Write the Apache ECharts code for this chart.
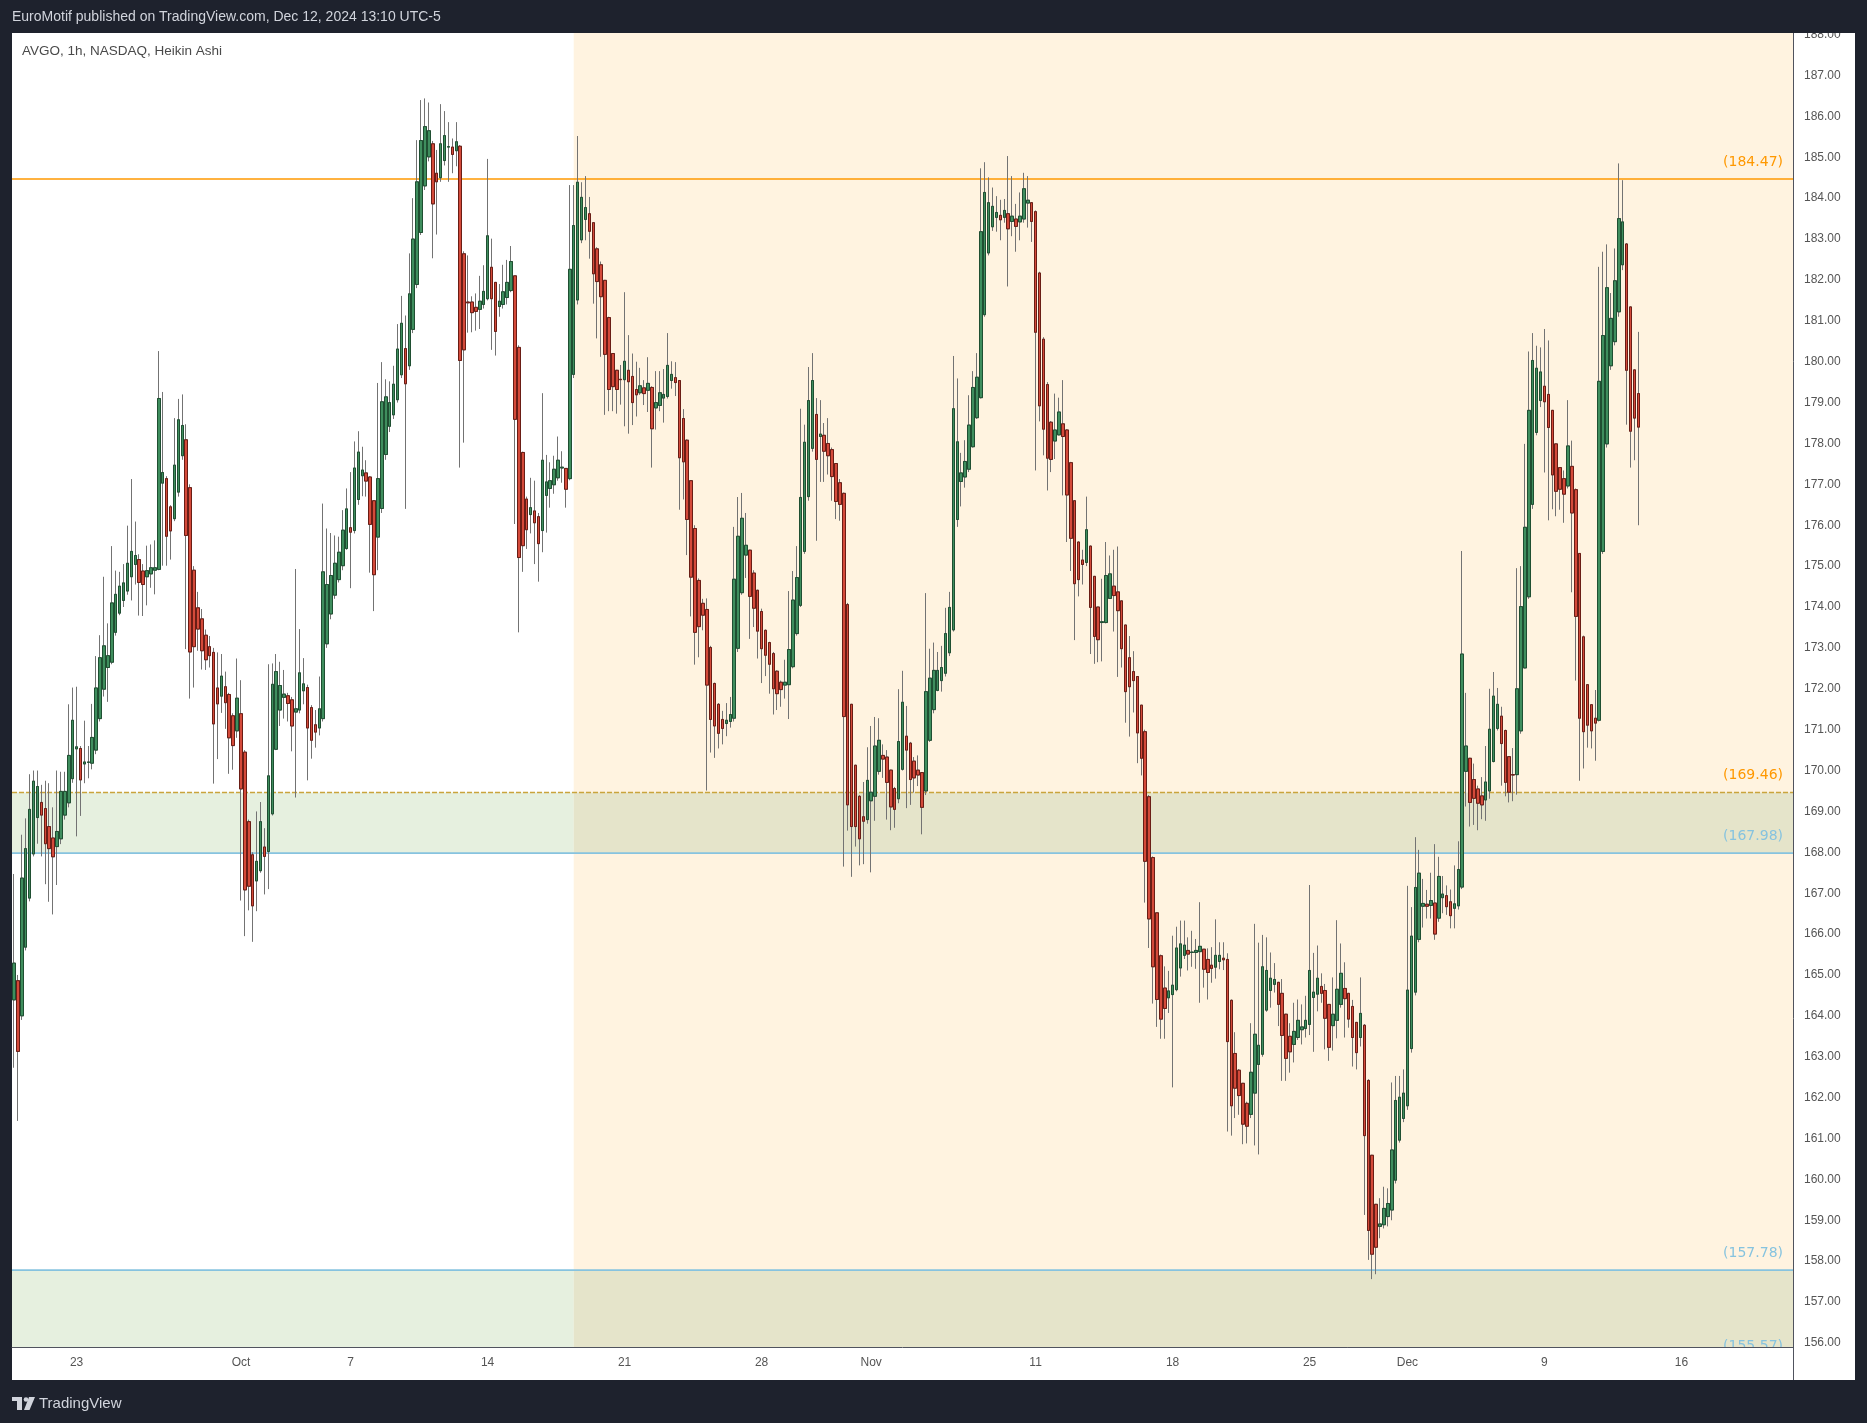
<!DOCTYPE html>
<html><head><meta charset="utf-8">
<script src="https://cdn.jsdelivr.net/npm/echarts@6/dist/echarts.min.js"></script>
<style>
html,body{margin:0;padding:0;background:#1e222d;width:1867px;height:1423px;overflow:hidden}
#panel{position:absolute;left:12px;top:33px;width:1843px;height:1347px;background:#ffffff}
#chart{position:absolute;left:0;top:0;width:1867px;height:1423px}
</style></head><body>
<div id="panel"></div><div id="chart"></div>
<script>
// ---- data (Heikin Ashi, 1h bars) ----
const openValues=[
164.39,164.86,164.0,165.68,166.88,167.96,168.85,169.22,169.07,168.63,
168.35,168.14,168.33,168.91,169.21,169.8,170.53,170.54,170.16,170.2,
170.18,170.5,171.27,171.99,172.52,172.65,173.38,173.85,174.16,174.39,
174.74,175.04,175.16,174.88,174.74,174.81,174.9,174.92,177.03,177.14,
176.45,176.16,176.81,177.7,178.09,176.92,174.9,173.98,173.71,173.31,
173.03,172.89,172.02,171.82,172.05,171.86,171.34,170.97,171.39,170.45,
168.75,167.94,167.3,167.55,168.13,168.02,168.94,170.52,171.48,171.79,
171.83,171.73,171.43,171.48,171.95,172.03,171.54,171.12,171.04,171.27,
173.1,173.83,174.29,174.67,175.01,175.43,175.94,175.87,176.63,177.21,
177.28,177.18,176.6,175.71,176.41,177.73,178.42,178.7,179.07,179.68,
180.32,179.9,180.79,181.89,183.16,184.3,185.01,185.33,184.61,184.5,
184.92,185.25,185.25,185.16,185.27,182.64,181.46,181.46,181.33,181.28,
181.4,181.54,182.31,181.94,181.35,181.4,181.57,181.74,182.1,180.35,
177.78,176.64,176.26,176.35,176.21,175.87,176.73,176.9,176.99,177.16,
177.4,177.39,177.14,179.69,181.51,182.98,183.48,183.62,183.4,182.76,
182.37,181.99,181.08,180.2,179.79,179.57,179.56,179.79,179.64,179.32,
179.24,179.36,179.3,179.37,178.87,178.93,179.11,179.15,179.54,179.61,
179.54,178.61,178.08,177.09,175.92,174.65,174.09,173.94,173.01,172.13,
171.62,171.25,171.15,171.2,171.28,172.99,174.35,175.27,175.39,174.83,
174.41,173.89,173.43,173.13,172.86,172.43,172.16,172.09,172.1,172.54,
173.35,174.04,175.36,176.7,177.88,178.71,178.17,178.2,178.0,177.85,
177.51,177.04,176.78,174.06,171.62,170.13,169.37,168.87,168.8,169.26,
169.37,169.98,170.37,170.33,170.01,169.56,169.31,170.03,170.84,170.67,
170.23,170.01,169.95,169.5,170.74,171.49,171.96,172.2,172.38,172.88,
173.44,176.14,177.07,177.18,177.37,177.92,178.63,179.12,181.15,182.66,
183.3,183.53,183.58,183.53,183.62,183.43,183.49,183.42,183.49,183.88,
183.89,183.67,182.17,180.55,179.44,178.52,178.06,178.21,178.48,178.33,
177.53,176.6,175.59,175.15,175.09,175.49,174.75,174.0,173.62,173.62,
174.21,174.51,174.37,174.15,173.56,172.76,172.42,172.3,171.6,170.95,
169.36,167.87,166.52,165.47,164.68,164.44,164.52,164.64,165.17,165.48,
165.6,165.55,165.55,165.57,165.63,165.38,165.24,165.19,165.33,165.41,
165.38,164.38,163.08,162.67,162.35,161.86,161.59,162.11,162.81,163.06,
164.14,164.62,164.77,164.82,164.55,164.04,163.5,163.3,163.47,163.66,
163.69,163.79,164.45,164.53,164.72,164.62,164.28,163.76,163.89,164.28,
164.67,164.55,164.23,163.84,163.47,163.77,162.42,160.59,159.39,158.85,
158.89,159.09,159.25,159.98,160.96,161.49,161.8,163.2,164.58,165.87,
166.68,166.73,166.7,166.76,166.39,166.89,166.94,166.79,166.63,166.69,
167.15,169.98,170.3,169.78,169.55,169.38,169.28,169.5,170.22,171.03,
171.33,170.98,170.34,169.9,169.9,170.97,172.51,174.25,176.51,178.27,
179.05,179.4,179.2,178.81,177.99,177.41,177.14,176.96,177.44,176.87,
175.31,173.27,172.1,171.61,171.28,171.23,175.36,177.99,179.9,180.49,
181.22,182.37,182.88,181.34,179.8,179.22];
const closeValues=[
165.29,163.13,167.37,168.09,169.05,169.74,169.61,168.91,168.21,168.09,
167.89,168.51,169.49,169.49,170.37,171.23,170.58,169.77,170.21,170.21,
170.81,172.02,172.76,173.05,172.81,174.1,174.31,174.51,174.59,175.07,
175.36,175.26,174.6,174.55,174.89,174.96,174.96,179.1,177.29,175.73,
175.86,177.47,178.58,178.44,175.75,172.9,173.03,173.46,172.93,172.71,
172.81,171.14,171.63,172.31,171.66,170.8,170.61,171.77,169.55,167.08,
167.17,166.69,167.78,168.75,167.9,169.87,172.11,172.42,172.08,171.87,
171.64,171.09,171.51,172.39,172.12,171.04,170.74,170.94,171.51,174.86,
174.55,174.77,175.07,175.34,175.88,176.4,175.83,177.4,177.79,177.35,
177.08,176.02,174.79,177.14,179.02,179.14,179.0,179.45,180.31,180.94,
179.46,181.66,183.0,184.4,185.41,185.75,185.65,183.86,184.4,185.33,
185.53,185.26,185.07,185.38,180.03,180.29,181.44,181.2,181.23,181.48,
181.72,183.08,181.54,180.74,181.48,181.71,181.94,182.45,178.59,175.21,
175.5,175.89,176.43,176.06,175.55,177.59,177.06,177.09,177.37,177.59,
177.42,176.88,182.26,183.33,184.39,184.02,183.77,183.19,182.15,181.96,
181.59,180.18,179.32,179.39,179.32,179.56,180.01,179.51,179.0,179.19,
179.41,179.22,179.47,178.36,179.0,179.24,179.2,179.91,179.69,179.49,
177.65,177.55,176.14,174.73,173.38,173.52,173.8,172.09,171.25,171.09,
170.91,171.03,171.23,171.37,174.68,175.73,176.17,175.51,174.26,173.97,
173.41,172.98,172.82,172.6,172.0,171.88,171.98,172.16,172.96,174.17,
174.72,176.68,178.03,179.05,179.54,177.61,178.23,177.81,177.7,177.19,
176.58,176.51,171.32,169.16,168.63,168.63,168.33,168.76,169.76,169.47,
170.6,170.74,170.28,169.71,169.11,169.05,170.71,171.67,170.5,169.78,
169.82,169.89,169.1,171.93,172.26,172.45,172.45,172.52,173.35,173.99,
178.85,178.04,177.28,177.56,178.45,179.37,179.62,183.18,184.14,183.89,
183.8,183.65,183.47,183.7,183.25,183.56,183.31,183.56,184.23,183.95,
183.43,180.72,178.92,178.35,177.64,177.61,178.33,178.77,178.17,176.74,
175.68,174.57,174.67,175.04,175.89,173.99,173.28,173.2,173.64,174.77,
174.81,174.28,173.91,172.98,171.93,172.05,172.2,170.92,170.3,167.78,
166.37,165.2,164.4,163.92,164.18,164.61,164.75,165.66,165.76,165.73,
165.51,165.56,165.6,165.7,165.14,165.06,165.16,165.48,165.48,165.37,
163.37,161.8,162.23,162.05,161.35,161.3,162.62,163.55,163.28,165.2,
165.11,164.92,164.89,164.28,163.52,162.96,163.12,163.62,163.89,163.73,
163.89,165.11,164.58,164.92,164.55,163.94,163.23,164.04,164.65,165.04,
164.42,163.92,163.47,163.1,164.06,161.07,158.75,158.17,158.34,158.91,
159.29,159.41,160.72,161.93,162.01,162.11,164.63,165.95,167.14,167.49,
166.75,166.68,166.82,166.0,167.41,166.98,166.67,166.45,166.74,167.58,
172.85,170.6,169.22,169.32,169.2,169.16,169.72,171.01,171.82,171.62,
170.66,169.71,169.47,169.89,172.0,174.01,175.95,178.81,180.03,179.84,
179.75,179.02,178.39,177.23,176.83,176.88,176.76,177.94,176.3,173.77,
171.28,170.95,171.11,170.97,171.16,179.52,180.64,181.81,181.06,181.98,
183.5,183.42,179.79,178.3,178.62,178.4];
const lowValues=[
162.73,161.43,163.9,165.6,166.8,167.9,168.21,167.9,167.22,166.79,
166.48,167.2,168.2,168.8,169.1,169.7,168.39,168.89,169.69,169.81,
170.03,170.4,171.2,171.81,171.68,172.6,173.3,173.8,174.0,174.3,
174.16,174.55,173.79,173.78,174.04,174.47,174.31,174.9,175.01,175.01,
175.16,176.1,176.7,177.6,172.97,171.76,172.03,172.93,172.47,172.46,
172.52,169.68,170.28,171.41,171.02,169.92,170.02,170.8,166.82,165.95,
166.58,165.81,166.56,167.5,166.97,167.1,168.9,170.5,171.09,171.27,
171.2,170.47,169.34,171.4,171.62,169.76,170.29,170.56,170.86,171.2,
173.0,173.7,174.2,174.6,174.9,175.4,174.46,175.8,176.5,176.71,
176.7,174.84,173.9,174.9,176.3,177.6,178.28,178.6,179.0,179.6,
176.4,179.8,180.7,181.8,183.1,184.2,184.9,182.53,183.11,184.4,
184.8,184.4,184.61,184.78,177.41,178.02,180.71,180.72,180.76,180.8,
181.3,181.5,180.29,180.15,181.1,181.3,181.4,181.7,176.03,173.38,
174.86,175.42,175.8,175.05,174.62,175.34,175.82,176.43,176.77,177.09,
177.04,176.43,177.1,179.6,181.4,182.9,182.97,182.52,181.42,180.57,
180.12,178.7,178.79,178.79,178.73,178.95,178.42,178.24,178.45,178.66,
179.19,178.94,178.77,177.41,178.34,178.79,178.51,179.1,179.34,179.16,
176.38,176.63,175.27,173.77,172.59,172.77,173.43,169.51,170.44,170.31,
170.54,170.64,170.84,171.05,171.2,172.9,174.3,174.71,173.22,173.51,
172.74,172.14,172.31,171.88,171.37,171.48,171.56,171.76,171.26,172.5,
173.3,174.0,175.3,176.6,177.8,175.62,177.06,177.06,177.24,176.6,
176.15,176.11,167.65,168.53,167.4,168.14,167.68,167.71,168.7,167.51,
168.77,169.9,169.82,168.8,168.54,168.6,169.2,170.0,169.08,169.16,
169.46,169.62,168.44,169.4,170.7,171.4,171.94,171.93,172.3,172.8,
173.4,175.96,176.46,176.92,177.3,177.9,178.6,179.1,181.1,182.6,
183.2,183.18,182.97,183.4,181.84,183.07,182.69,182.97,183.4,183.28,
182.93,177.34,178.54,177.71,176.85,177.3,177.62,178.2,176.73,175.59,
174.88,173.19,174.26,174.55,175.0,172.85,172.61,172.65,172.67,173.6,
174.2,173.4,172.29,172.52,171.17,170.83,171.42,170.18,169.88,166.77,
165.66,164.3,163.73,163.44,163.44,164.07,162.25,164.6,164.96,165.39,
165.11,165.2,165.15,164.32,164.69,164.4,164.81,164.91,165.14,165.12,
161.17,161.07,161.5,161.58,160.86,160.88,161.5,160.83,160.61,163.0,
164.1,164.2,164.57,163.75,162.41,162.41,162.61,162.86,163.41,163.3,
163.47,163.53,163.12,164.11,164.32,163.18,162.9,163.15,163.45,164.2,
163.47,163.71,162.76,162.69,163.25,159.13,158.03,157.56,157.68,158.56,
158.8,158.85,159.0,159.9,160.9,161.4,161.7,163.1,164.5,165.8,
166.16,166.38,166.38,165.86,166.3,166.51,166.47,166.14,166.14,166.6,
167.1,169.12,168.63,168.67,168.54,168.81,168.77,169.31,170.2,170.98,
169.63,169.37,169.22,169.25,169.41,170.9,172.5,174.2,176.4,178.2,
178.89,177.29,176.12,176.39,176.22,176.38,176.06,176.9,174.36,172.2,
169.75,170.05,170.56,170.54,170.24,171.2,175.3,177.9,179.8,180.4,
181.1,182.24,178.46,177.41,177.59,176.0];
const highValues=[
167.47,165.0,168.43,168.83,169.91,170.0,170.0,169.65,169.75,169.69,
169.1,170.0,169.97,169.97,171.62,172.03,172.05,170.6,171.22,170.6,
171.63,172.8,173.31,174.74,173.6,175.49,174.89,174.86,175.05,175.99,
177.13,176.09,175.29,175.05,175.5,175.53,175.63,180.26,179.26,177.2,
176.49,178.62,179.09,179.2,178.47,177.0,175.0,174.37,173.95,173.45,
173.29,173.0,172.89,172.85,172.42,171.9,171.4,172.74,172.21,170.5,
168.8,168.0,169.0,169.23,168.59,172.6,172.62,172.85,172.66,172.46,
171.9,171.8,174.93,173.46,172.75,172.1,171.6,171.48,172.3,176.53,
175.92,175.81,175.75,175.72,176.37,176.9,177.3,178.05,178.3,177.92,
177.59,177.2,176.6,179.48,179.99,179.57,179.52,179.9,180.92,181.61,
181.13,182.65,184.0,185.42,186.4,186.44,186.34,185.4,185.18,186.3,
186.13,185.86,185.46,185.86,185.3,182.7,182.6,181.6,181.67,182.1,
182.36,184.96,183.01,181.95,181.9,182.37,182.49,182.83,182.1,180.4,
177.8,176.7,177.16,177.09,176.3,179.23,177.72,177.54,177.7,178.17,
177.81,177.4,184.32,184.32,185.52,184.39,184.54,184.03,183.4,182.8,
182.45,182.0,181.1,180.2,179.8,179.92,181.7,180.65,180.2,180.0,
179.85,179.55,180.11,179.4,179.77,179.77,179.82,180.7,180.01,179.99,
179.55,178.84,178.1,177.1,176.0,174.7,174.2,174.21,173.05,172.15,
171.65,171.46,171.65,171.8,175.96,176.69,176.79,176.3,175.4,174.9,
174.42,173.96,173.45,173.15,172.9,172.45,172.2,172.71,174.39,174.88,
175.49,178.85,178.46,179.87,180.21,179.11,179.06,178.5,178.62,177.9,
177.52,177.13,176.8,174.1,171.63,170.14,169.4,169.72,170.57,171.09,
171.31,171.28,170.64,170.5,170.02,169.6,171.99,172.44,171.58,170.7,
170.33,170.37,169.96,174.34,172.98,173.13,172.9,173.05,173.98,174.37,
180.14,179.59,177.77,178.08,179.18,179.77,180.21,184.73,184.88,184.51,
184.26,184.05,183.96,183.98,185.03,184.54,183.86,184.14,184.62,184.54,
183.9,183.7,182.2,180.6,179.5,178.55,179.22,179.12,179.55,178.35,
177.55,176.6,175.6,175.4,176.7,175.5,174.75,174.0,174.69,175.59,
175.26,175.4,175.48,174.15,173.56,173.29,172.92,172.3,171.6,171.0,
169.4,167.9,166.52,165.5,165.21,165.1,165.96,166.18,166.33,166.33,
165.92,166.08,165.88,166.78,165.63,165.65,165.68,166.36,165.8,165.8,
165.53,164.4,163.6,162.7,162.36,161.9,163.82,166.25,165.79,165.98,
165.92,165.55,165.29,164.83,164.9,164.05,163.82,164.32,164.4,164.28,
164.49,167.2,165.54,165.72,165.04,164.78,164.29,164.94,166.34,165.77,
165.31,164.56,164.39,163.85,164.94,163.8,162.45,160.6,159.4,159.54,
159.82,159.78,162.37,162.53,162.53,162.69,167.18,166.66,168.37,168.06,
167.35,167.08,167.5,168.2,167.89,167.42,167.19,167.09,167.68,168.27,
175.37,171.9,170.31,170.17,169.63,169.84,170.6,172.0,172.41,172.02,
171.56,171.0,170.35,170.55,174.95,175.0,177.99,180.25,180.7,180.39,
180.35,180.8,180.52,178.82,178.0,177.42,177.34,179.06,178.07,176.9,
175.32,173.3,172.11,171.62,171.97,182.32,182.69,182.87,181.68,182.77,
184.85,184.44,182.9,181.35,179.81,180.73];

// axis labels
const priceTicks=[156,157,158,159,160,161,162,163,164,165,166,167,168,169,170,171,172,173,174,175,176,177,178,179,180,181,182,183,184,185,186,187,188];
const tickDays=['2024-09-23','2024-10-01','2024-10-07','2024-10-14','2024-10-21','2024-10-28','2024-11-01','2024-11-11','2024-11-18','2024-11-25','2024-12-02','2024-12-09','2024-12-16'];
const tickLabels=['23','Oct','7','14','21','28','Nov','11','18','25','Dec','9','16'];

// drawn levels
const resistanceLevel=184.47;
const zoneTop=169.46, zoneBottom=167.98;
const lowerZoneTop=157.78, lowerZoneBottom=155.57;
const shadeStart='2024-10-17 10:30';

// session calendar (hourly bars)
const hours=['09:30','10:30','11:30','12:30','13:30','14:30','15:30'];
const holidays=['2024-11-28'];
const shortDays={'2024-11-29':4};
const startDay='2024-09-18', startHourIndex=5, slotCount=455;

const categories=[];
{
  let d=new Date(startDay+'T00:00:00Z');
  while(categories.length<slotCount){
    const dow=d.getUTCDay();
    const ds=d.toISOString().slice(0,10);
    if(dow!==0&&dow!==6&&!holidays.includes(ds)){
      const n=shortDays[ds]||7;
      const s=ds===startDay?startHourIndex:0;
      for(let h=s;h<n&&categories.length<slotCount;h++) categories.push(ds+' '+hours[h]);
    }
    d.setUTCDate(d.getUTCDate()+1);
  }
}
const labelAt=new Map();
tickDays.forEach((day,k)=>{const idx=categories.indexOf(day+' 09:30'); if(idx>=0) labelAt.set(idx,tickLabels[k]);});

const ohlc=openValues.map((o,i)=>[o,closeValues[i],lowValues[i],highValues[i]]);
const bodies=openValues.map((o,i)=>[o,closeValues[i],Math.min(o,closeValues[i]),Math.max(o,closeValues[i])]);

const FONT='"Liberation Sans", Arial, sans-serif';
const LFONT='"DejaVu Sans", sans-serif';
const G={left:12,right:74,top:33,bottom:76};
const W=1867,H=1423;
const gl=G.left, gr=W-G.right, gt=G.top, gb=H-G.bottom;

const chart=echarts.init(document.getElementById('chart'),null,{renderer:'canvas'});
chart.setOption({
  backgroundColor:'transparent',
  animation:false,
  grid:{left:G.left,right:G.right,top:G.top,bottom:G.bottom,containLabel:false,outerBoundsMode:'none'},
  xAxis:{type:'category',data:categories,boundaryGap:true,z:50,
    axisLine:{show:true,lineStyle:{color:'#50535e',width:1}},
    axisTick:{show:false},splitLine:{show:false},
    axisLabel:{interval:(idx)=>labelAt.has(idx),formatter:(v,idx)=>labelAt.get(idx)||'',
      color:'#555',fontSize:12,fontFamily:FONT,margin:10}},
  yAxis:{type:'value',position:'right',min:155.9,max:188.04,z:10,
    axisLine:{show:true,lineStyle:{color:'#50535e',width:1}},
    axisTick:{show:false},splitLine:{show:false},
    axisLabel:{customValues:priceTicks,formatter:v=>v.toFixed(2),color:'#555',fontSize:12,fontFamily:FONT,margin:11}},
  series:[
    {type:'candlestick',name:'wick',data:ohlc,barWidth:3,z:3,
      itemStyle:{color:'#737373',color0:'#737373',borderColor:'#737373',borderColor0:'#737373',borderWidth:1}},
    {type:'candlestick',name:'body',data:bodies,barWidth:3,z:4,
      itemStyle:{color:'#3f8e5e',color0:'#d44a3a',borderColor:'#1f4f32',borderColor0:'#6a1d15',borderWidth:1}}
  ]
});

const X=i=>chart.convertToPixel({xAxisIndex:0},i);
const Y=v=>chart.convertToPixel({yAxisIndex:0},v);
const xs=X(categories.indexOf(shadeStart));
const rect=(x1,y1,x2,y2,fill,z)=>({type:'rect',silent:true,z:z,shape:{x:x1,y:y1,width:x2-x1,height:y2-y1},style:{fill:fill}});
const hline=(y,stroke,w,dash,z)=>({type:'line',silent:true,z:z,shape:{x1:gl,y1:y,x2:gr,y2:y},style:{stroke:stroke,lineWidth:w,lineDash:dash||null}});
const label=(txt,y,fill)=>({type:'text',silent:true,z:6,x:gr-10,y:y,style:{text:txt,fill:fill,font:'14px '+LFONT,textAlign:'right',textVerticalAlign:'middle'}});

const yT=Y(zoneTop), yB=Y(zoneBottom), yLT=Y(lowerZoneTop);
const graphics=[
  rect(xs,gt,gr,gb,'#fff3e0',0),
  rect(gl,yT,xs,yB,'#e6f0df',1),
  rect(xs,yT,gr,yB,'#e5e4ca',1),
  rect(gl,yLT,xs,gb,'#e6f0df',1),
  rect(xs,yLT,gr,gb,'#e5e4ca',1),
  hline(Y(resistanceLevel),'#ff9800',1.5,null,2),
  hline(yT,'#c9a43c',1.5,[5,2],2),
  hline(yB,'#86c3df',1.8,null,2),
  hline(yLT,'#86c3df',1.8,null,2),
  label('('+resistanceLevel.toFixed(2)+')',Y(resistanceLevel)-17,'#ff9800'),
  label('('+zoneTop.toFixed(2)+')',yT-17,'#ff9800'),
  label('('+zoneBottom.toFixed(2)+')',yB-17,'#86c3df'),
  label('('+lowerZoneTop.toFixed(2)+')',yLT-17,'#86c3df'),
  label('('+lowerZoneBottom.toFixed(2)+')',Y(lowerZoneBottom)-14,'#86c3df'),
  // frame covers
  rect(0,0,W,gt,'#1e222d',40),
  rect(gl,gb+0.5,1855,1380,'#ffffff',40),
  {type:'line',silent:true,z:45,shape:{x1:gr+0.5,y1:gb,x2:gr+0.5,y2:1380},style:{stroke:'#50535e',lineWidth:1}},
  {type:'text',silent:true,z:41,x:12,y:17.5,style:{text:'EuroMotif published on TradingView.com, Dec 12, 2024 13:10 UTC-5',fill:'#d1d4dc',font:'14px '+FONT,textVerticalAlign:'middle'}},
  {type:'text',silent:true,z:41,x:22,y:51.5,style:{text:'AVGO, 1h, NASDAQ, Heikin Ashi',fill:'#4a4a4a',font:'13.5px '+FONT,textVerticalAlign:'middle'}},
  // footer logo
  rect(12,1397,22,1401,'#d1d4dc',41),
  rect(17,1397,22,1410,'#d1d4dc',41),
  {type:'circle',silent:true,z:41,shape:{cx:26,cy:1399.5,r:2.3},style:{fill:'#d1d4dc'}},
  {type:'polygon',silent:true,z:41,shape:{points:[[29,1397],[35,1397],[29.5,1410],[24,1410]]},style:{fill:'#d1d4dc'}},
  {type:'text',silent:true,z:41,x:39,y:1403.5,style:{text:'TradingView',fill:'#d1d4dc',font:'15px '+FONT,textVerticalAlign:'middle'}}
];
chart.setOption({graphic:graphics});
</script>
</body></html>
